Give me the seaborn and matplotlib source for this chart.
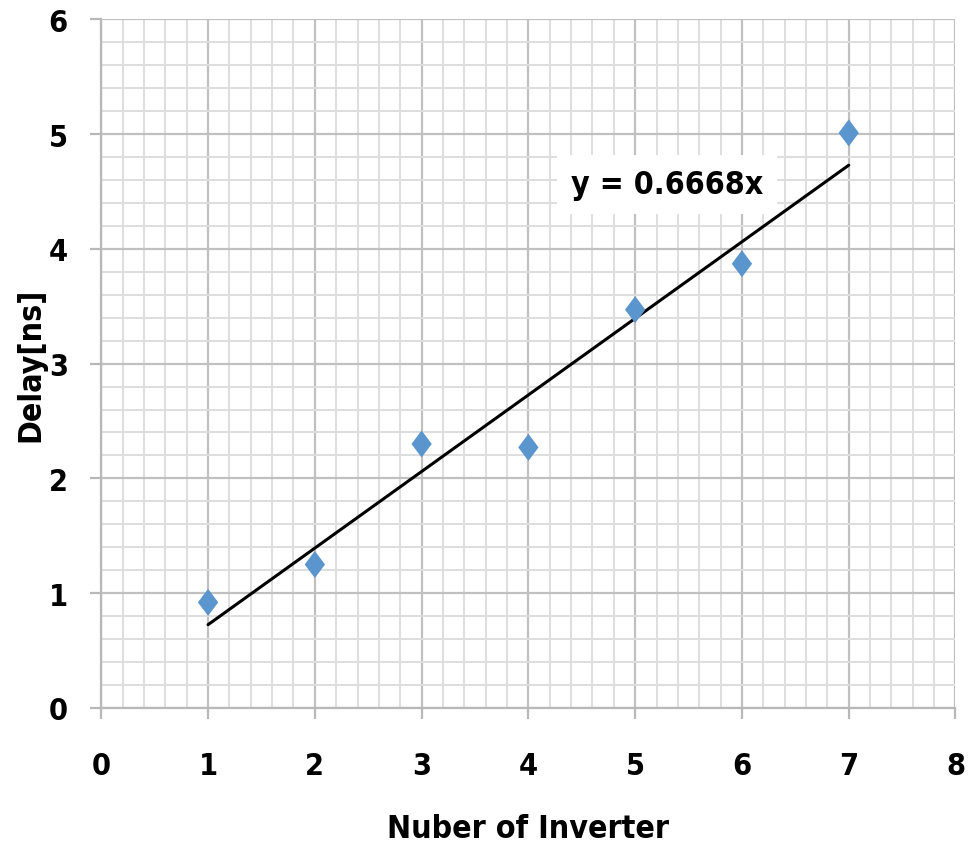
import matplotlib
matplotlib.use("Agg")
import matplotlib.pyplot as plt
import seaborn as sns
import numpy as np
import pandas as pd
from matplotlib.ticker import MultipleLocator

inverters = [1, 2, 3, 4, 5, 6, 7]
delay_ns = [0.92, 1.25, 2.30, 2.27, 3.47, 3.87, 5.01]
x_ticks = [0, 1, 2, 3, 4, 5, 6, 7, 8]
y_ticks = [0, 1, 2, 3, 4, 5, 6]
x_label = "Nuber of Inverter"
y_label = "Delay[ns]"
eq_label = "y = 0.6668x"

df = pd.DataFrame({"n": inverters, "delay": delay_ns})

sns.set_theme(style="white")
plt.rcParams['font.family'] = ['DejaVu Sans']
plt.rcParams['font.stretch'] = 'condensed'
plt.rcParams['text.color'] = 'black'
plt.rcParams['axes.labelcolor'] = 'black'
plt.rcParams['xtick.color'] = 'black'
plt.rcParams['ytick.color'] = 'black'

fig = plt.figure(figsize=(9.74, 8.45), dpi=100)
ax = fig.add_axes([0.104, 0.161, 0.877, 0.815])

diamond = [(-0.75, 0), (0, 1), (0.75, 0), (0, -1), (-0.75, 0)]
sns.regplot(data=df, x="n", y="delay", ci=None, ax=ax, marker=diamond,
            scatter_kws=dict(s=380, color="#5b95cd", edgecolors="none", alpha=1, zorder=4),
            line_kws=dict(color="black", lw=2.2, zorder=3))

ax.set_xlim(0, 8)
ax.set_ylim(0, 6)
ax.set_xticks(x_ticks)
ax.set_yticks(y_ticks)
ax.xaxis.set_minor_locator(MultipleLocator(0.2))
ax.yaxis.set_minor_locator(MultipleLocator(0.2))
ax.grid(which="major", color="#c0c0c0", lw=1.6)
ax.grid(which="minor", color="#dedede", lw=1.4)
ax.set_axisbelow(True)
for s in ["top", "right"]:
    ax.spines[s].set_visible(False)
for s in ["left", "bottom"]:
    ax.spines[s].set_color("#b8b8b8")
    ax.spines[s].set_linewidth(1.6)
ax.tick_params(which="major", direction="out", length=8, width=1.6, color="#b8b8b8",
               labelcolor="black", labelsize=22, bottom=True, left=True)
ax.tick_params(axis="x", which="major", pad=23)
ax.tick_params(axis="y", which="major", pad=16)
ax.tick_params(which="minor", length=0)
for lab in ax.get_xticklabels() + ax.get_yticklabels():
    lab.set_fontweight("bold")

ax.set_xlabel(x_label, fontsize=23, fontweight="bold", labelpad=24)
ax.set_ylabel(y_label, fontsize=23, fontweight="bold", labelpad=2)

ax.text(5.30, 4.56, eq_label, fontsize=23, fontweight="bold", ha="center", va="center",
        bbox=dict(facecolor="white", edgecolor="none", pad=10), zorder=5)

fig.savefig("out.png", dpi=100, facecolor="white")
